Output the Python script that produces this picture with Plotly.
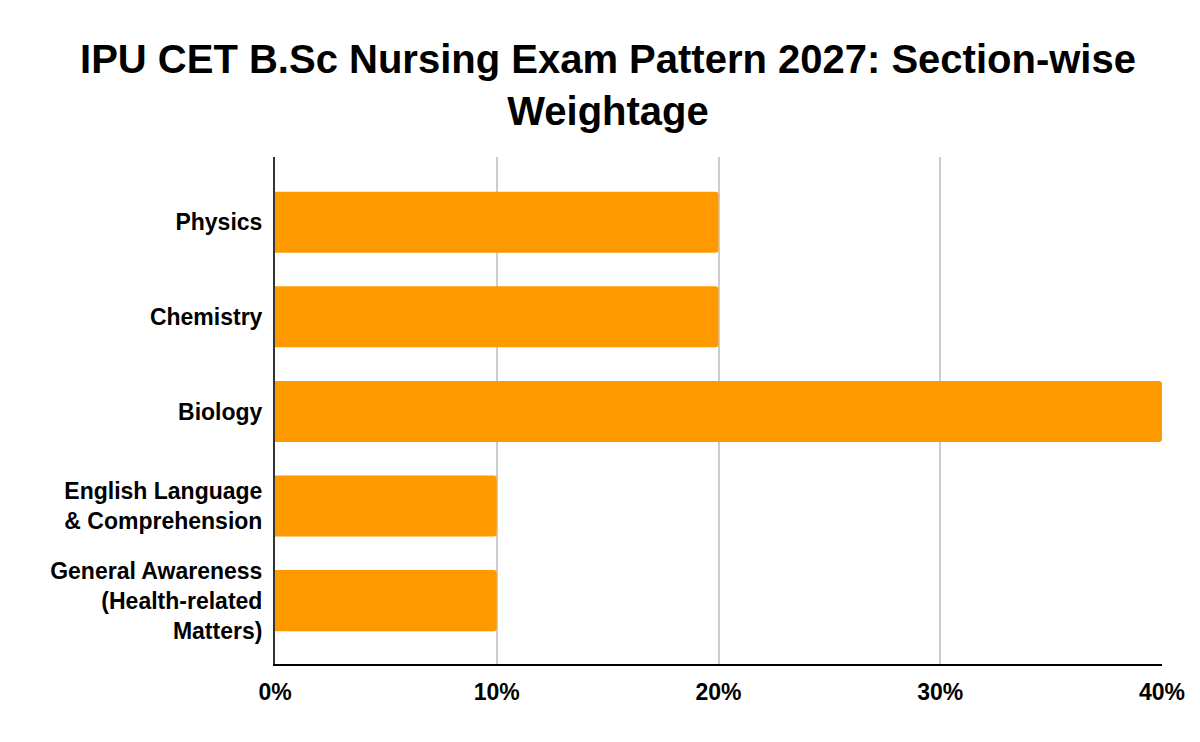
import plotly.graph_objects as go

SECTIONS = [
    "Physics",
    "Chemistry",
    "Biology",
    "English Language<br>& Comprehension",
    "General Awareness<br>(Health-related<br>Matters)",
]
WEIGHTAGE = [0.20, 0.20, 0.40, 0.10, 0.10]
X_TICKS = [0, 0.1, 0.2, 0.3, 0.4]
X_TICK_TEXT = ["0%", "10%", "20%", "30%", "40%"]

FONT = "Arial, Liberation Sans, sans-serif"

fig = go.Figure(
    go.Bar(
        x=WEIGHTAGE,
        y=SECTIONS,
        orientation="h",
        marker={"color": "#FF9900", "cornerradius": 3, "line": {"width": 0}},
        hovertemplate="%{y}: %{x:.0%}<extra></extra>",
    )
)

# the page body has an 8px margin, so the margins below are offset by it
fig.update_layout(
    width=1200,
    height=742,
    title={
        "text": "<b>IPU CET B.Sc Nursing Exam Pattern 2027: Section-wise<br>Weightage</b>",
        "x": 0.5,
        "xanchor": "center",
        "y": 0.913,
        "yanchor": "top",
        "font": {"family": FONT, "size": 40, "color": "#000000"},
    },
    bargap=0.355,
    plot_bgcolor="#ffffff",
    paper_bgcolor="#ffffff",
    margin={"l": 267, "r": 46, "t": 149, "b": 86},
    showlegend=False,
    font={"family": FONT, "color": "#000000"},
)
fig.update_xaxes(
    range=[0, 0.4],
    tickvals=X_TICKS,
    ticktext=X_TICK_TEXT,
    tickfont={"family": FONT, "size": 23, "color": "#000000", "weight": "bold"},
    showgrid=True,
    gridcolor="#cccccc",
    gridwidth=2,
    zeroline=False,
    showline=True,
    linecolor="#000000",
    linewidth=2,
    ticks="",
    ticklabelstandoff=6,
)
fig.update_yaxes(
    range=[4.67, -0.69],
    tickfont={"family": FONT, "size": 23, "color": "#000000", "weight": "bold"},
    showgrid=False,
    zeroline=False,
    showline=True,
    linecolor="#333333",
    linewidth=2,
    ticks="",
    ticklabelstandoff=6,
)

fig.write_html("out.html")
